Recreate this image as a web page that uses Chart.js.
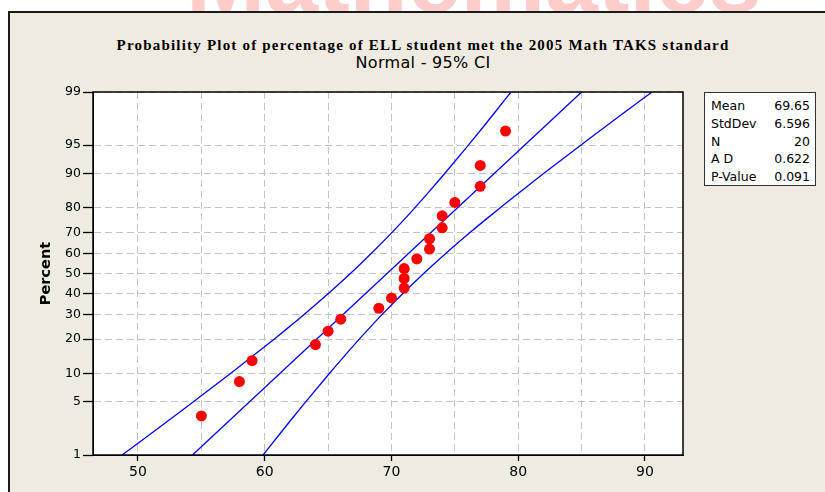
<!DOCTYPE html>
<html>
<head>
<meta charset="utf-8">
<script src="https://cdn.jsdelivr.net/npm/chart.js@4.4.0/dist/chart.umd.min.js"></script>
<style>
  body { margin: 0; background: #fff; width: 825px; height: 492px; overflow: hidden; position: relative; }
  #mark { position: absolute; left: 186px; top: -68px; font: bold 95px "Liberation Sans", Arial, sans-serif; line-height: 95px; color: #ffcccc; white-space: nowrap; }
  #frame { position: absolute; left: 8px; top: 11px; width: 830px; height: 500px; background: #efebe1; border-left: 2px solid #1a1a1a; border-top: 2px solid #1a1a1a; }
  #wrap { position: absolute; left: 0; top: 0; width: 825px; height: 492px; }
  .ttl { position: absolute; left: 0; width: 846px; text-align: center; color: #000; white-space: nowrap; }
  #t1 { top: 36px; font: bold 15px "Liberation Serif", serif; line-height: 18px; letter-spacing: 1.2px; }
  #t2 { top: 54px; font: 16px "DejaVu Sans", sans-serif; line-height: 18px; letter-spacing: 0.3px; }
  #stats { position: absolute; left: 704px; top: 92px; width: 112px; height: 94px; border: 1px solid #333; background: #fff; box-sizing: border-box; font: 12.5px "DejaVu Sans", sans-serif; color: #000; padding-top: 4px; }
  #stats div { height: 17.8px; line-height: 17.8px; padding: 0 5px 0 6px; display: flex; justify-content: space-between; }
</style>
</head>
<body>
<div id="mark">Mathematics</div>
<div id="frame"></div>
<div class="ttl" id="t1">Probability Plot of percentage of ELL student met the 2005 Math TAKS standard</div>
<div class="ttl" id="t2">Normal - 95% CI</div>
<div id="wrap"><canvas id="c" width="825" height="492"></canvas></div>
<div id="stats"></div>
<script>
// waarden
const scores = [55, 58, 59, 64, 65, 66, 69, 70, 71, 71, 71, 72, 73, 73, 74, 74, 75, 77, 77, 79];
const percents = [3.4, 8.3, 13.2, 18.1, 23.0, 27.9, 32.8, 37.7, 42.6, 47.5, 52.5, 57.4, 62.3, 67.2, 72.1, 77.0, 81.9, 86.8, 91.7, 96.6];

// fitted line (straight on the probability scale)
const fitX = [54.3, 85.0];
const fitP = [1, 99];

// 95% CI bands
const bandP = [1, 2, 3, 5, 10, 15, 20, 25, 30, 40, 50, 60, 70, 75, 80, 85, 90, 95, 97, 98, 99];
const bandLeftX = [48.74, 51.01, 52.43, 54.37, 57.30, 59.23, 60.74, 62.00, 63.11, 65.04, 66.76, 68.38, 70.03, 70.90, 71.84, 72.90, 74.20, 76.07, 77.25, 78.10, 79.43];
const bandRightX = [59.87, 61.20, 62.05, 63.23, 65.10, 66.40, 67.46, 68.40, 69.27, 70.92, 72.54, 74.26, 76.19, 77.30, 78.57, 80.07, 82.00, 84.93, 86.87, 88.29, 90.56];

// ticks
const xTicks = [50, 55, 60, 65, 70, 75, 80, 85, 90];
const xLabelled = [50, 60, 70, 80, 90];
const pctTicks = [1, 5, 10, 20, 30, 40, 50, 60, 70, 80, 90, 95, 99];

// legend box
const statNames = ['Mean', 'StdDev', 'N', 'A D', 'P-Value'];
const statValues = ['69.65', '6.596', '20', '0.622', '0.091'];

// inverse normal (Acklam) -> percent op probit schaal
let zOf = function (pct) {
  const p = pct / 100;
  const a = [-39.6968302866538, 220.946098424521, -275.928510446969, 138.357751867269, -30.6647980661472, 2.50662827745924];
  const b = [-54.4760987982241, 161.585836858041, -155.698979859887, 66.8013118877197, -13.2806815528857];
  const c = [-0.00778489400243029, -0.322396458041136, -2.40075827716184, -2.54973253934373, 4.37466414146497, 2.93816398269878];
  const d = [0.00778469570904146, 0.32246712907004, 2.445134137143, 3.75440866190742];
  const pl = 0.02425;
  let q, r;
  if (p < pl) {
    q = Math.sqrt(-2 * Math.log(p));
    return (((((c[0]*q+c[1])*q+c[2])*q+c[3])*q+c[4])*q+c[5]) / ((((d[0]*q+d[1])*q+d[2])*q+d[3])*q+1);
  }
  if (p > 1 - pl) {
    q = Math.sqrt(-2 * Math.log(1 - p));
    return -(((((c[0]*q+c[1])*q+c[2])*q+c[3])*q+c[4])*q+c[5]) / ((((d[0]*q+d[1])*q+d[2])*q+d[3])*q+1);
  }
  q = p - 0.5; r = q * q;
  return (((((a[0]*r+a[1])*r+a[2])*r+a[3])*r+a[4])*r+a[5])*q / (((((b[0]*r+b[1])*r+b[2])*r+b[3])*r+b[4])*r+1);
};

let toPts = (xs, ps) => xs.map((x, i) => ({ x: x, y: zOf(ps[i]) }));

const stats = document.getElementById('stats');
statNames.forEach((n, i) => {
  stats.innerHTML += `<div><span>${n}</span><span>${statValues[i]}</span></div>`;
});

const plotFrame = {
  id: 'plotFrame',
  beforeDraw(chart) {
    const a = chart.chartArea, ctx = chart.ctx;
    ctx.save();
    ctx.fillStyle = '#fff';
    ctx.fillRect(a.left, a.top, a.right - a.left, a.bottom - a.top);
    ctx.restore();
  },
  afterDraw(chart) {
    const a = chart.chartArea, ctx = chart.ctx;
    ctx.save();
    ctx.strokeStyle = '#000';
    ctx.lineWidth = 1.5;
    ctx.strokeRect(a.left, a.top, a.right - a.left, a.bottom - a.top);
    ctx.restore();
  }
};

const blue = '#0000ff';

new Chart(document.getElementById('c'), {
  type: 'scatter',
  data: {
    datasets: [
      { data: toPts(scores, percents), backgroundColor: '#ff0000', borderWidth: 0, pointRadius: 5.5, showLine: false },
      { data: toPts(fitX, fitP), showLine: true, borderColor: blue, borderWidth: 1.3, pointRadius: 0 },
      { data: toPts(bandLeftX, bandP), showLine: true, borderColor: blue, borderWidth: 1.3, pointRadius: 0, cubicInterpolationMode: 'monotone' },
      { data: toPts(bandRightX, bandP), showLine: true, borderColor: blue, borderWidth: 1.3, pointRadius: 0, cubicInterpolationMode: 'monotone' }
    ]
  },
  options: {
    responsive: false,
    animation: false,
    events: [],
    layout: { padding: { left: 38, top: 92, right: 142, bottom: 0 } },
    plugins: { legend: { display: false }, tooltip: { enabled: false } },
    scales: {
      x: {
        type: 'linear',
        min: 46.45,
        max: 93,
        afterBuildTicks: (s) => { s.ticks = xTicks.map(v => ({ value: v })); },
        afterFit: (s) => { s.height = 37; },
        ticks: {
          padding: 3,
          color: '#000',
          font: { family: 'DejaVu Sans', size: 14 },
          callback: (v) => xLabelled.includes(v) ? String(v) : ''
        },
        grid: {
          color: '#c4c4c4',
          tickLength: 6,
          tickWidth: 1.3,
          tickColor: (ctx) => ctx.tick && xLabelled.includes(ctx.tick.value) ? '#000' : 'rgba(0,0,0,0)'
        },
        border: { color: '#000', width: 1, dash: [7, 4] }
      },
      y: {
        type: 'linear',
        min: zOf(1),
        max: zOf(99),
        afterBuildTicks: (s) => { s.ticks = pctTicks.map(p => ({ value: zOf(p) })); },
        afterFit: (s) => { s.width = 55; },
        ticks: {
          padding: 2,
          color: '#000',
          font: { family: 'DejaVu Sans', size: 12.5 },
          callback: (v, i) => String(pctTicks[i])
        },
        grid: { color: '#c4c4c4', tickLength: 10, tickWidth: 1.3, tickColor: '#000' },
        border: { color: '#000', width: 1, dash: [7, 4] },
        title: {
          display: true,
          text: 'Percent',
          color: '#000',
          padding: 0,
          font: { family: 'DejaVu Sans', size: 14.5, weight: 'bold' }
        }
      }
    }
  },
  plugins: [plotFrame]
});
</script>
</body>
</html>
